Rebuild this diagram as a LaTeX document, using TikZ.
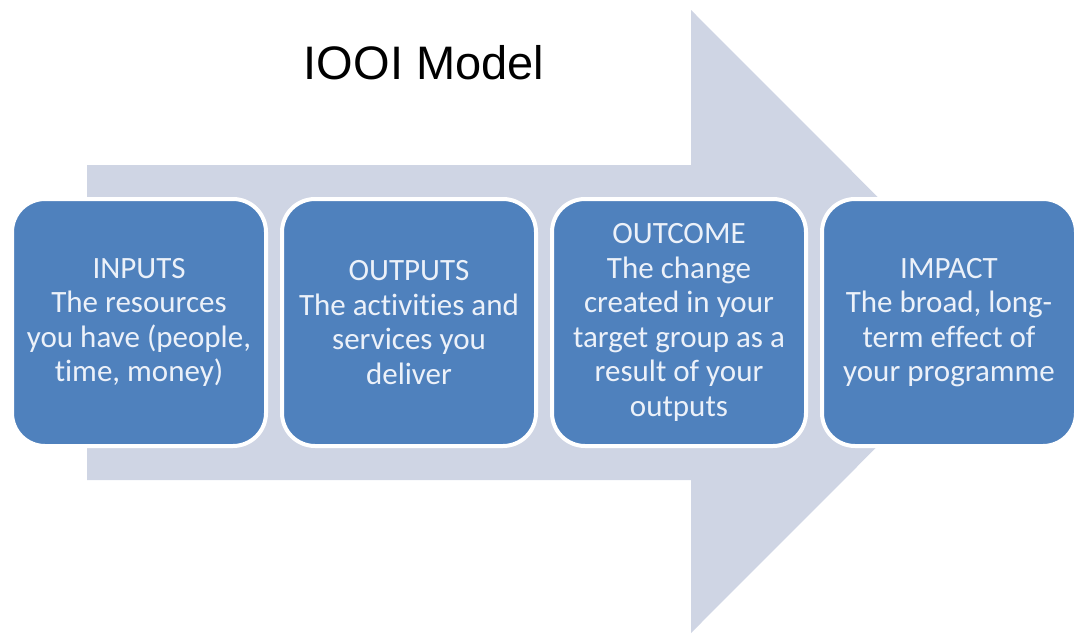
\documentclass[tikz,border=0pt]{standalone}
\usepackage{fontspec}
\setmainfont[Ligatures=NoCommon]{Carlito}
\newfontfamily\headfont{Liberation Sans}
\usepackage{xcolor}
\usetikzlibrary{positioning}

\definecolor{stageblue}{RGB}{79,129,189}
\definecolor{flowgrey}{RGB}{207,213,228}
\definecolor{stagetext}{RGB}{236,241,249}

\begin{document}
\begin{tikzpicture}[
    x=1pt, y=-1pt,
    flow/.style={fill=flowgrey},
    stage/.style={
        draw=white, line width=4pt, rounded corners=33pt, fill=stageblue,
        minimum width=254pt, minimum height=247pt, align=center, inner sep=2pt,
        text=stagetext, font=\fontsize{31}{34.5}\selectfont,
    },
    title/.style={font=\headfont\fontsize{47}{56}\selectfont, anchor=base},
]
\useasboundingbox (0,0) rectangle (1076,637);

% --- big arrow behind the stages ---
\fill[flow] (87,165) -- (691,165) -- (691,10) -- (1002,321.5)
    -- (691,633) -- (691,480) -- (87,480) -- cycle;

% --- title ---
\node[title] (title) at (424,79) {IOOI Model};

% --- the four stages ---
\node[stage] (inputs) at (139,322.5)
    {INPUTS\\The resources\\you have (people,\\time, money)};
\node[stage, right=12pt of inputs] (outputs)
    {OUTPUTS\\The activities and\\services you\\deliver};
\node[stage, right=12pt of outputs] (outcome)
    {OUTCOME\\The change\\created in your\\target group as a\\result of your\\outputs};
\node[stage, right=12pt of outcome] (impact)
    {IMPACT\\The broad, long-\\term effect of\\your programme};

\end{tikzpicture}
\end{document}
